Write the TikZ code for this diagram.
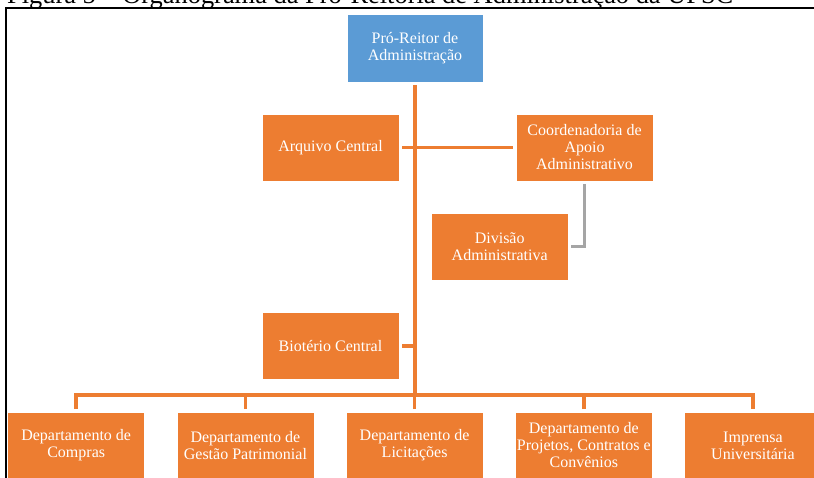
\documentclass[tikz,border=0pt]{standalone}
\usepackage{fontspec}
\setmainfont{Liberation Serif}
\definecolor{orgorange}{HTML}{ED7D31}
\definecolor{orgblue}{HTML}{5B9BD5}
\definecolor{orggray}{HTML}{A5A5A5}
\tikzset{unitbox/.style={fill=orgorange,draw=white,line width=0.8pt,text=white,minimum width=137pt,minimum height=67pt,inner sep=1pt,outer sep=3pt,align=center,font=\fontsize{16}{17}\selectfont}}
\tikzset{headbox/.style={unitbox,fill=orgblue,minimum width=136pt,minimum height=68pt}}
\tikzset{link/.style={orgorange,line width=3.5pt}}

\begin{document}
\begin{tikzpicture}[x=1pt,y=-1pt]
 \useasboundingbox (0,0) rectangle (814,478);
 \clip (0,0) rectangle (814,478);
 \node[anchor=base west,inner sep=0,font=\fontsize{26.4}{30}\selectfont] (title) at (7,3.5) {Figura 5 – Organograma da Pró-Reitoria de Administração da UFSC};
 \draw[line width=1.5pt] (6,478) -- (6,8) -- (814,8);
 \node[headbox] (pro) at (415,48) {Pró-Reitor de\\Administração};
 \node[unitbox] (arq) at (330.5,147.5) {Arquivo Central};
 \node[unitbox] (coord) at (584.5,147.5) {Coordenadoria de\\Apoio\\Administrativo};
 \node[unitbox] (div) at (499.7,246.7) {Divisão\\Administrativa};
 \node[unitbox] (bio) at (330.5,345.8) {Biotério Central};
 \foreach \name/\txt [count=\i from 0] in {d1/{Departamento de\\Compras},d2/{Departamento de\\Gestão Patrimonial},d3/{Departamento de\\Licitações},d4/{Departamento de\\Projetos, Contratos e\\Convênios},d5/{Imprensa\\Universitária}}{
     \node[unitbox] (\name) at (76.2+169.2*\i,445.5) {\txt};
 }
 \coordinate (bus) at (415,395);
 \draw[link] (pro.south) -- (bus);
 \draw[link] (arq.east) -- (coord.west);
 \draw[link] (bio.east) -- (bio.east -| pro.south);
 \draw[link,orggray,line width=3pt] (coord.south) |- (div.east);
 \draw[link] (d1.north) |- (bus) -| (d5.north);
 \foreach \x in {2,3,4}{
     \draw[link] (d\x.north) -- (d\x.north |- bus);
 }
\end{tikzpicture}
\end{document}
